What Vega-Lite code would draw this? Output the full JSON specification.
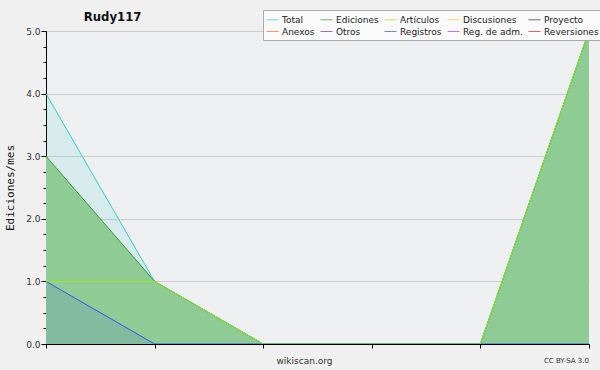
{
  "$schema": "https://vega.github.io/schema/vega-lite/v6.json",
  "width": 543,
  "height": 313,
  "autosize": {"type": "none"},
  "padding": {"left": 46, "top": 31, "right": 11, "bottom": 26},
  "background": "#f0f0f0",
  "config": {
    "view": {"fill": "#eeeff1", "stroke": null},
    "font": "DejaVu Sans"
  },
  "title": {
    "text": "Rudy117",
    "anchor": "start",
    "dx": 79,
    "offset": 0,
    "dy": 27,
    "baseline": "bottom",
    "fontSize": 13,
    "font": "DejaVu Sans Condensed",
    "fontWeight": "bold",
    "color": "#111111"
  },
  "data": {
    "values": [
      {"m": 0, "serie": "Total", "v": 4}, {"m": 1, "serie": "Total", "v": 1}, {"m": 2, "serie": "Total", "v": 0},
      {"m": 3, "serie": "Total", "v": 0}, {"m": 4, "serie": "Total", "v": 0}, {"m": 5, "serie": "Total", "v": 5},
      {"m": 0, "serie": "Ediciones", "v": 3}, {"m": 1, "serie": "Ediciones", "v": 1}, {"m": 2, "serie": "Ediciones", "v": 0},
      {"m": 3, "serie": "Ediciones", "v": 0}, {"m": 4, "serie": "Ediciones", "v": 0}, {"m": 5, "serie": "Ediciones", "v": 5},
      {"m": 0, "serie": "Artículos", "v": 1}, {"m": 1, "serie": "Artículos", "v": 1}, {"m": 2, "serie": "Artículos", "v": 0},
      {"m": 3, "serie": "Artículos", "v": 0}, {"m": 4, "serie": "Artículos", "v": 0}, {"m": 5, "serie": "Artículos", "v": 5},
      {"m": 0, "serie": "Registros", "v": 1}, {"m": 1, "serie": "Registros", "v": 0}, {"m": 2, "serie": "Registros", "v": 0},
      {"m": 3, "serie": "Registros", "v": 0}, {"m": 4, "serie": "Registros", "v": 0}, {"m": 5, "serie": "Registros", "v": 0}
    ]
  },
  "encoding": {
    "x": {
      "field": "m", "type": "quantitative",
      "scale": {"domain": [0, 5], "nice": false, "zero": false},
      "axis": {
        "values": [0, 1, 2, 3, 4, 5],
        "labels": false,
        "grid": false,
        "zindex": 1,
        "tickSize": 4,
        "tickColor": "#000000",
        "domainColor": "#000000",
        "title": "wikiscan.org",
        "titleFontSize": 9,
        "titleFontWeight": "normal",
        "titleColor": "#333333",
        "titleX": 258,
        "titleAlign": "center",
        "titlePadding": 8
      }
    },
    "y": {
      "field": "v", "type": "quantitative",
      "scale": {"domain": [0, 5], "nice": false},
      "axis": {
        "values": [0, 0.25, 0.5, 0.75, 1, 1.25, 1.5, 1.75, 2, 2.25, 2.5, 2.75, 3, 3.25, 3.5, 3.75, 4, 4.25, 4.5, 4.75, 5],
        "labelExpr": "datum.value % 1 === 0 ? format(datum.value, '.1f') : ''",
        "labelFontSize": 9,
        "labelColor": "#333333",
        "labelPadding": 1,
        "tickColor": "#000000",
        "domainColor": "#000000",
        "tickSize": {"condition": {"test": "datum.value % 1 === 0", "value": 5}, "value": 3},
        "grid": true,
        "gridColor": "#cccccc",
        "gridOpacity": {"condition": {"test": "datum.value % 1 === 0", "value": 1}, "value": 0},
        "title": "Ediciones/mes",
        "titleFont": "DejaVu Sans Mono",
        "titleFontSize": 11,
        "titleFontWeight": "normal",
        "titleColor": "#111111",
        "titlePadding": 10
      }
    }
  },
  "layer": [
    {
      "transform": [{"filter": "datum.serie === 'Total'"}],
      "mark": {"type": "area", "color": "#33cccc", "fillOpacity": 0.12}
    },
    {
      "transform": [{"filter": "datum.serie === 'Ediciones'"}],
      "mark": {"type": "area", "color": "#8fcb95", "fillOpacity": 1}
    },
    {
      "transform": [{"filter": "datum.serie === 'Registros'"}],
      "mark": {"type": "area", "color": "#3355ee", "fillOpacity": 0.13}
    },
    {
      "transform": [{"filter": "datum.serie === 'Total'"}],
      "mark": {"type": "line", "strokeWidth": 1},
      "encoding": {"color": {"field": "serie", "type": "nominal"}}
    },
    {
      "transform": [{"filter": "datum.serie === 'Ediciones'"}],
      "mark": {"type": "line", "strokeWidth": 1},
      "encoding": {"color": {"field": "serie", "type": "nominal"}}
    },
    {
      "transform": [{"filter": "datum.serie === 'Registros'"}],
      "mark": {"type": "line", "strokeWidth": 1},
      "encoding": {"color": {"field": "serie", "type": "nominal"}}
    },
    {
      "transform": [{"filter": "datum.serie === 'Artículos'"}],
      "mark": {"type": "line", "strokeWidth": 1},
      "encoding": {
        "color": {
          "field": "serie", "type": "nominal",
          "scale": {
            "domain": ["Total", "Ediciones", "Artículos", "Discusiones", "Proyecto", "Anexos", "Otros", "Registros", "Reg. de adm.", "Reversiones"],
            "range": ["#33cccc", "#339933", "#99e622", "#f0c030", "#333333", "#f07030", "#7030d0", "#3355ee", "#c030e0", "#e02020"]
          },
          "legend": {
            "title": null,
            "orient": "none",
            "legendX": 217,
            "legendY": -21,
            "columns": 5,
            "direction": "horizontal",
            "symbolType": "stroke",
            "symbolSize": 144,
            "symbolStrokeWidth": 1,
            "symbolOpacity": 0.7,
            "labelFontSize": 9,
            "labelColor": "#222222",
            "labelOffset": 3,
            "columnPadding": 3,
            "rowPadding": -3,
            "padding": 3,
            "fillColor": "#fafafa",
            "strokeColor": "#aaaaaa"
          }
        }
      }
    },
    {
      "data": {"values": [{"m": 5, "v": 0, "t": "CC BY-SA 3.0"}]},
      "mark": {"type": "text", "align": "right", "baseline": "middle", "dy": 17, "fontSize": 7, "color": "#333333"},
      "encoding": {"text": {"field": "t"}}
    }
  ]
}
